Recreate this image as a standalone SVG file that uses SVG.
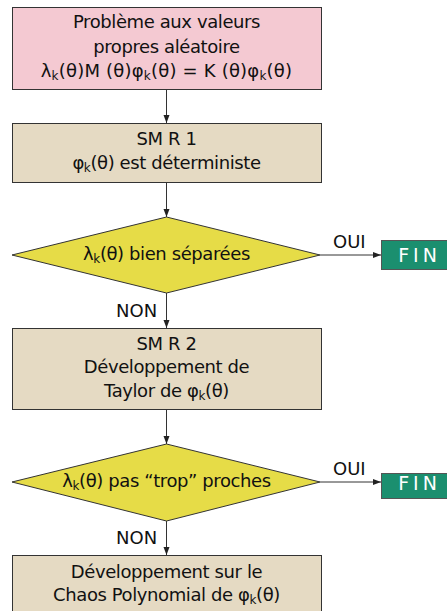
<svg xmlns="http://www.w3.org/2000/svg" width="447" height="611" viewBox="0 0 447 611">
<style>
.t{font-family:"DejaVu Sans",sans-serif;font-size:18px;fill:#111;text-anchor:middle;letter-spacing:-0.4px}
.l{font-family:"DejaVu Sans",sans-serif;font-size:18px;fill:#111}
.s{font-size:12px}
.box{stroke:#333;stroke-width:1}
.fin{fill:#1b8f6f;stroke:#555;stroke-width:1}
.ft{font-family:"DejaVu Sans",sans-serif;font-size:19px;fill:#fff;text-anchor:middle;letter-spacing:4px}
.c{stroke:#333;stroke-width:1;fill:none;marker-end:url(#a)}
</style>
<defs>
<marker id="a" viewBox="0 0 8 8" refX="8" refY="4" markerWidth="8" markerHeight="8" orient="auto" markerUnits="userSpaceOnUse">
<path d="M0,1 L8,4 L0,7 Z" fill="#222"/>
</marker>
</defs>
<g id="connectors">
<line class="c" x1="166.5" y1="89" x2="166.5" y2="123"/>
<line class="c" x1="166.5" y1="182" x2="166.5" y2="217"/>
<line class="c" x1="320" y1="255" x2="381" y2="255"/>
<line class="c" x1="166.5" y1="293" x2="166.5" y2="328"/>
<line class="c" x1="166.5" y1="409" x2="166.5" y2="444"/>
<line class="c" x1="320" y1="482" x2="381" y2="482"/>
<line class="c" x1="166.5" y1="521" x2="166.5" y2="555"/>
<text class="l" x="333" y="248">OUI</text>
<text class="l" x="333" y="475">OUI</text>
<text class="l" x="116" y="317">NON</text>
<text class="l" x="116" y="544">NON</text>
</g>
<g id="n1">
<rect class="box" x="12.5" y="7.5" width="309" height="82" fill="#f4c9d2"/>
<text class="t" x="166.5" y="28">Problème aux valeurs</text>
<text class="t" x="166.5" y="53">propres aléatoire</text>
<text class="t" x="166.5" y="77" style="letter-spacing:0.2px">λ<tspan class="s" dy="3">k</tspan><tspan dy="-3">(θ)M (θ)φ</tspan><tspan class="s" dy="3">k</tspan><tspan dy="-3">(θ) = K (θ)φ</tspan><tspan class="s" dy="3">k</tspan><tspan dy="-3">(θ)</tspan></text>
</g>
<g id="n2">
<rect class="box" x="12.5" y="123.5" width="309" height="59" fill="#e5dac3"/>
<text class="t" x="166.5" y="145">SM R 1</text>
<text class="t" x="166.5" y="169">φ<tspan class="s" dy="3">k</tspan><tspan dy="-3">(θ) est déterministe</tspan></text>
</g>
<g id="d1">
<polygon class="box" points="166.5,217 320,255 166.5,293 12,255" fill="#e6dc47"/>
<text class="t" x="166.5" y="260">λ<tspan class="s" dy="3">k</tspan><tspan dy="-3">(θ) bien séparées</tspan></text>
</g>
<g id="fin1">
<rect class="fin" x="381.5" y="240.5" width="70" height="29"/>
<text class="ft" x="419.5" y="262">FIN</text>
</g>
<g id="n3">
<rect class="box" x="12.5" y="328.5" width="309" height="81" fill="#e5dac3"/>
<text class="t" x="166.5" y="350">SM R 2</text>
<text class="t" x="166.5" y="373">Développement de</text>
<text class="t" x="166.5" y="397">Taylor de φ<tspan class="s" dy="3">k</tspan><tspan dy="-3">(θ)</tspan></text>
</g>
<g id="d2">
<polygon class="box" points="166.5,444 320,482 166.5,521 12,482" fill="#e6dc47"/>
<text class="t" x="166.5" y="487">λ<tspan class="s" dy="3">k</tspan><tspan dy="-3">(θ) pas “trop” proches</tspan></text>
</g>
<g id="fin2">
<rect class="fin" x="381.5" y="473.5" width="70" height="25"/>
<text class="ft" x="419.5" y="490">FIN</text>
</g>
<g id="n4">
<rect class="box" x="12.5" y="555.5" width="309" height="70" fill="#e5dac3"/>
<text class="t" x="166.5" y="578">Développement sur le</text>
<text class="t" x="166.5" y="601">Chaos Polynomial de φ<tspan class="s" dy="3">k</tspan><tspan dy="-3">(θ)</tspan></text>
</g>
</svg>
